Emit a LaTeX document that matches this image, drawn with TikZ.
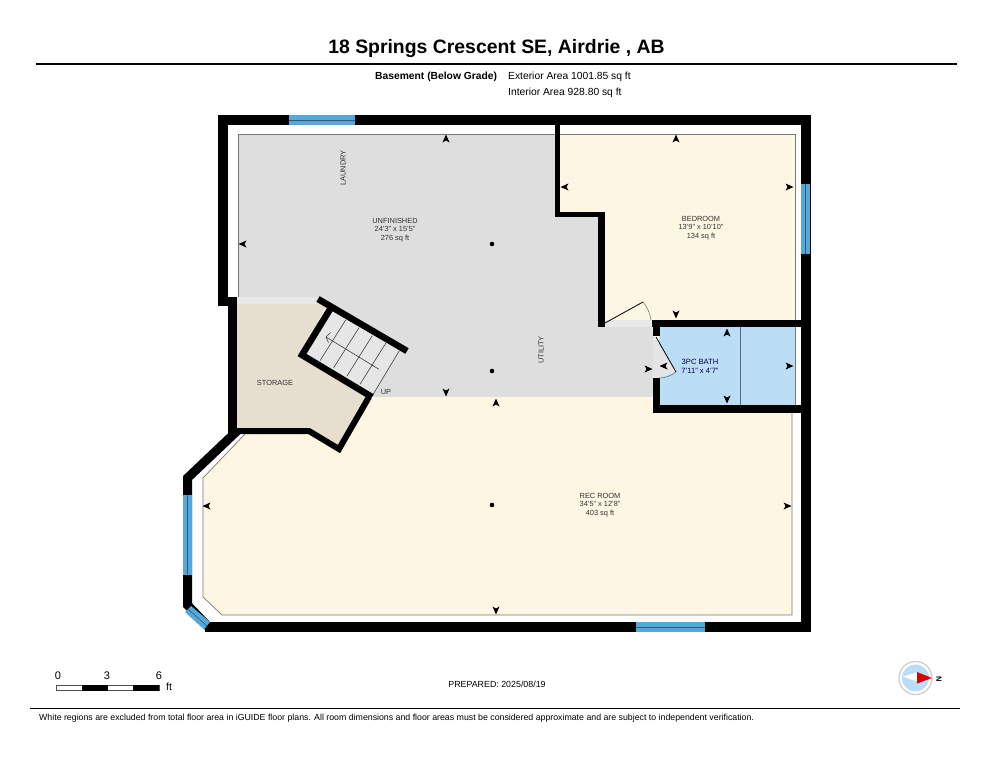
\documentclass[tikz,border=0pt]{standalone}
\usepackage{fontspec}
\setmainfont{Liberation Sans}
\definecolor{wallc}{HTML}{000000}
\definecolor{grayroom}{HTML}{DEDEDE}
\definecolor{cream}{HTML}{FDF6E3}
\definecolor{storagec}{HTML}{E6DECE}
\definecolor{bathc}{HTML}{BBDDF6}
\definecolor{winc}{HTML}{55A9D8}
\definecolor{edgec}{HTML}{77787A}
\definecolor{txt}{HTML}{333333}
\newcommand{\mk}[4]{\fill[black] ({#1+4.5*#3},{#2+4.5*#4}) -- ({#1-3.5*#3+3.5*#4},{#2-3.5*#4+3.5*#3}) -- ({#1-1.5*#3},{#2-1.5*#4}) -- ({#1-3.5*#3-3.5*#4},{#2-3.5*#4-3.5*#3}) -- cycle;}
\tikzset{
  wall/.style={line width=#1,draw=black,line join=miter,line cap=butt},
  wall/.default=7pt,
  roomedge/.style={draw=edgec,line width=0.7pt},
  lbl/.style={font=\fontsize{7.4}{8.4}\selectfont,text=txt,align=center,inner sep=0pt},
  bathlbl/.style={font=\fontsize{7.6}{8.8}\selectfont,text=black!75!blue,align=center,inner sep=0pt},
  head/.style={font=\fontsize{10.3}{12}\selectfont,text=black,anchor=west,inner sep=0pt},
  win/.style={fill=winc,draw=none},
  winline/.style={draw=black!45!winc,line width=0.6pt},
  tread/.style={draw=black!75,line width=0.6pt},
  doorl/.style={draw=black,line width=0.8pt},
  doora/.style={draw=black!60,line width=0.5pt},
  dotm/.style={circle,fill=black,minimum size=4.6pt,inner sep=0pt}
}
\begin{document}
\begin{tikzpicture}[x=1pt,y=-1pt]
\useasboundingbox[fill=white] (0,0) rectangle (993,768);
% Rooms
\path[fill=grayroom,draw=none] (238,134) -- (555,134) -- (555,215) -- (600,215) -- (600,327) -- (652,327) -- (659,378) -- (652,397) -- (380,397) -- (371,397) -- (399.3,350) -- (407,351) -- (318,298) -- (238,297) -- cycle;
\draw[roomedge] (238,297) -- (238,134) -- (555,134);
\path[fill=cream] (559,134) -- (795,134) -- (795,320) -- (605,320) -- (605,212) -- (559,212) -- cycle;
\draw[roomedge] (559,134) -- (795,134) -- (795,320);
\path[fill=storagec] (237,303) -- (328,303) -- (300,355) -- (370,397) -- (339,448) -- (309,430) -- (237,430) -- cycle;
\path[fill=grayroom!70!white] (237,297) -- (320,297) -- (328,304) -- (237,304) -- cycle;
\path[fill=grayroom!75!white] (330,310) -- (302,355) -- (372,397) -- (399.3,350.7) -- cycle;
\path[fill=cream] (371,397) -- (652,397) -- (652,413) -- (792,413) -- (792,615) -- (222,615) -- (203,597) -- (203,478) -- (245,434) -- (311,434) -- (339,452) -- cycle;
\draw[roomedge] (792,413) -- (792,615) -- (222,615) -- (203,597) -- (203,478) -- (245,434);
\path[fill=bathc] (659,327) -- (795,327) -- (795,405) -- (659,405) -- cycle;
\draw[draw=edgec!80!blue,line width=0.8pt] (740,327) -- (740,405);
\draw[draw=edgec,line width=0.6pt] (795,327) -- (795,405);
\path[fill=grayroom!70!white] (605,320) -- (652,320) -- (652,327) -- (605,327) -- cycle;
\path[fill=grayroom!80!white] (653,335) -- (676,372) -- (659,378) -- (653,378) -- cycle;
% Stairs
\foreach \ax/\ay/\bx/\by in {345.7/320/320/360.7, 359/327.7/333.5/368, 372.3/335.7/346.8/376.3, 385.7/343.3/360/384.3, 399.3/350.7/372.7/395}
  \draw[tread] (\ax,\ay) -- (\bx,\by);
\draw[tread] (379,369.3) -- (326,337);
\draw[tread] (330.5,332.5) -- (326,337) -- (328.5,342.5);
% Walls
\draw[wall=10pt] (223,306) -- (223,120) -- (805.5,120) -- (805.5,627) -- (205,627);
\draw[wall=9pt] (223.5,301) -- (237,301);
\draw[wall=9pt] (232.5,297) -- (232.5,434);
\draw[wall=9pt] (237,431) -- (187.5,478) -- (187.5,605) -- (208.5,627);
\draw[wall=6pt] (232,431) -- (309,431) -- (339,449) -- (369,397);
\draw[wall=6.5pt] (372,397) -- (302,355) -- (332,306);
\draw[wall=6.5pt] (318,299) -- (407,351);
\draw[wall=5pt] (557.5,120) -- (557.5,214);
\draw[wall=5pt] (555,214) -- (602,214);
\draw[wall=7pt] (601.5,212) -- (601.5,327);
\draw[wall=7pt] (652,323.5) -- (805,323.5);
\draw[wall=7pt] (656.5,320) -- (656.5,336);
\draw[wall=7pt] (656.5,378) -- (656.5,413);
\draw[wall=8pt] (653,409) -- (805,409);
% Windows
\fill[win] (289,115) rectangle (355,125);
\draw[winline] (289,120) -- (355,120);
\fill[win] (801,184) rectangle (810,254);
\draw[winline] (805.5,184) -- (805.5,254);
\fill[win] (636,622) rectangle (705,632);
\draw[winline] (636,627) -- (705,627);
\fill[win] (183,495) rectangle (192,575);
\draw[winline] (187.5,495) -- (187.5,575);
\fill[win] (191,606) -- (210,622) -- (204,629.5) -- (185,612) -- cycle;
\draw[winline] (188,609) -- (207,626);
% Doors
\draw[doorl] (605,323) -- (643,302);
\draw[doora] (643,302) .. controls (648,308) and (650,314) .. (651,320);
\draw[doorl] (656,337) -- (676,372);
\draw[doora] (676,372) .. controls (671,376) and (665,378) .. (659,378);
% Markers
\mk{446}{139}{0}{-1}\mk{446}{392}{0}{1}\mk{243}{244}{-1}{0}\mk{648}{369}{1}{0}
\mk{676}{139}{0}{-1}\mk{676}{314}{0}{1}\mk{565}{187}{-1}{0}\mk{789}{187}{1}{0}
\mk{727}{333}{0}{-1}\mk{727}{399}{0}{1}\mk{664}{366}{-1}{0}\mk{789}{366}{1}{0}
\mk{496}{403}{0}{-1}\mk{496}{610}{0}{1}\mk{207}{506}{-1}{0}\mk{787}{506}{1}{0}
\node[dotm] (d1) at (492,244) {};
\node[dotm] (d2) at (492,371) {};
\node[dotm] (d3) at (492,505) {};
% Room labels
\node[lbl] (laundry) at (343,168) {\rotatebox{90}{LAUNDRY}};
\node[lbl] (utility) at (541,350) {\rotatebox{90}{UTILITY}};
\node[lbl] (unf) at (395,230) {UNFINISHED\\24'3" x 15'5"\\276 sq ft};
\node[lbl] (bed) at (701,228) {BEDROOM\\13'9" x 10'10"\\134 sq ft};
\node[lbl] (storage) at (275,383) {STORAGE};
\node[lbl] (up) at (386,392) {UP};
\node[bathlbl] (bath) at (700,366) {3PC BATH\\7'11" x 4'7"};
\node[lbl] (rec) at (600,505) {REC ROOM\\34'5" x 12'8"\\403 sq ft};
% Header
\node[font=\bfseries\fontsize{19.4}{21}\selectfont,inner sep=0pt] (title) at (496.5,49) {18 Springs Crescent SE, Airdrie , AB};
\coordinate (tl) at (36,64); \coordinate (tr) at (957,64);
\draw[line width=1.3pt] (tl) -- (tr);
\node[head,font=\bfseries\fontsize{10.3}{12}\selectfont] (bg) at (375,77) {Basement (Below Grade)};
\node[head] (ext) at (508,77) {Exterior Area 1001.85 sq ft};
\node[head] (int) at (508,93) {Interior Area 928.80 sq ft};
% Scale
\draw[black!70,line width=0.6pt,fill=white] (56,685) rectangle (159,690.5);
\fill[black] (82,685) rectangle (108,691);
\fill[black] (133,685) rectangle (159,691);
\node[font=\fontsize{11}{12}\selectfont,inner sep=0pt] (s0) at (58,676) {0};
\node[font=\fontsize{11}{12}\selectfont,inner sep=0pt] (s3) at (107,676) {3};
\node[font=\fontsize{11}{12}\selectfont,inner sep=0pt] (s6) at (159,676) {6};
\node[font=\fontsize{10.5}{12}\selectfont,inner sep=0pt] (sft) at (169,687) {ft};
\node[font=\fontsize{8.85}{11}\selectfont,inner sep=0pt] (prep) at (497,684) {PREPARED: 2025/08/19};
% Compass
\draw[black!20,line width=1.2pt,fill=white] (915.5,678) circle (16.5);
\fill[bathc] (915.5,678) circle (13.5);
\fill[white] (903,676.5) -- (918,672) -- (918,682) -- cycle;
\fill[red!85!black] (917,672) -- (932,678) -- (917,683.5) -- cycle;
\node[font=\bfseries\fontsize{7.5}{8}\selectfont,inner sep=0pt] (north) at (939,679) {\rotatebox{-90}{N}};
% Footer
\coordinate (fl) at (30,708); \coordinate (fr) at (960,708);
\draw[line width=1pt] (fl) -- (fr);
\node[anchor=west,font=\fontsize{8.78}{10}\selectfont,inner sep=0pt] (foot) at (39,718.5) {White regions are excluded from total floor area in iGUIDE floor plans. All room dimensions and floor areas must be considered approximate and are subject to independent verification.};
\end{tikzpicture}
\end{document}
